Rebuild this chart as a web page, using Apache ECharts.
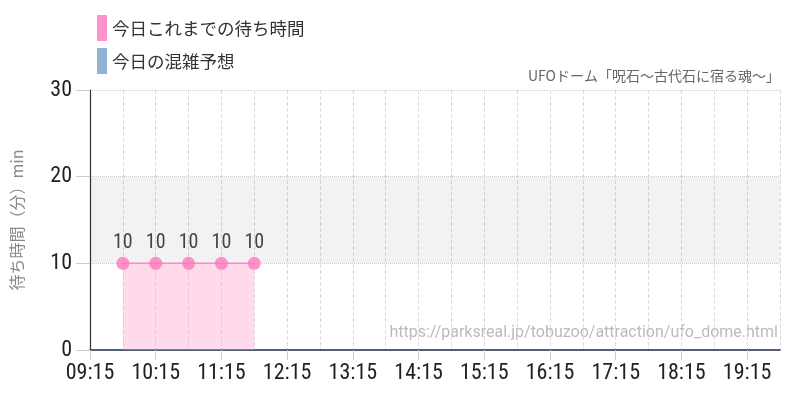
<!DOCTYPE html>
<html><head><meta charset="utf-8">
<script src="https://cdn.jsdelivr.net/npm/echarts@6/dist/echarts.min.js"></script>
<style>html,body{margin:0;padding:0;background:#fff}#c{width:800px;height:400px}</style>
</head><body><div id="c"></div>
<script>
var categories = ['09:15','09:45','10:15','10:45','11:15','11:45','12:15','12:45','13:15','13:45','14:15','14:45','15:15','15:45','16:15','16:45','17:15','17:45','18:15','18:45','19:15','19:45'];
var waitSoFar = [null,10,10,10,10,10,null,null,null,null,null,null,null,null,null,null,null,null,null,null,null,null];
var forecast = [];
var yTicks = {min:0, max:30, interval:10};
var seriesNames = ['今日これまでの待ち時間','今日の混雑予想'];
var titleText = 'UFOドーム「呪石～古代石に宿る魂～」';
var urlText = 'https://parksreal.jp/tobuzoo/attraction/ufo_dome.html';
var yName = '待ち時間（分）min';

var jpFont = "'Noto Sans CJK JP','Noto Sans',sans-serif";
var numFont = "'Roboto Condensed','Roboto',sans-serif";
var chart = echarts.init(document.getElementById('c'));
chart.setOption({
  animation:false,
  color:['#ff88c8','#8fb3d1'],
  title:{text:titleText,right:15,top:64,textStyle:{fontSize:14,fontWeight:'normal',color:'#666',fontFamily:jpFont}},
  legend:{orient:'vertical',left:92,top:10,itemWidth:10,itemHeight:26,itemGap:7,icon:'rect',
    textStyle:{fontSize:17.5,color:'#333',fontFamily:jpFont},data:seriesNames},
  graphic:[{type:'text',right:22,top:325,style:{text:urlText,fontSize:16,fill:'#bbb',fontFamily:"'Roboto','Noto Sans',sans-serif"}}],
  grid:{left:90,right:20,top:90,bottom:50},
  xAxis:{type:'category',data:categories,boundaryGap:false,
    axisLine:{lineStyle:{color:'#1f3048',width:1.5}},
    axisTick:{show:true,interval:1,length:10,lineStyle:{color:'#ccc'}},
    axisLabel:{interval:1,margin:12,fontSize:22,color:'#222',fontFamily:numFont},
    splitLine:{show:true,interval:0,lineStyle:{type:'dashed',color:'#ddd'}}},
  yAxis:{type:'value',min:yTicks.min,max:yTicks.max,interval:yTicks.interval,
    name:yName,nameLocation:'middle',nameGap:65,nameTextStyle:{fontSize:16,color:'#888',fontFamily:jpFont},
    axisLine:{show:true,lineStyle:{color:'#333',width:1.2}},
    axisTick:{show:true,length:14,lineStyle:{color:'#ccc'}},
    axisLabel:{margin:18,fontSize:22,color:'#222',fontFamily:numFont},
    splitLine:{lineStyle:{type:'dotted',color:'#ccc'}}},
  series:[
    {name:seriesNames[0],type:'line',data:waitSoFar,symbol:'circle',symbolSize:13,
      itemStyle:{color:'rgba(255,120,190,0.8)'},lineStyle:{color:'#ff88c8',width:1.5},
      areaStyle:{color:'rgba(255,150,205,0.5)'},
      label:{show:true,position:'top',distance:4,fontSize:20,color:'#444',fontFamily:numFont},
      markArea:{silent:true,itemStyle:{color:'rgba(0,0,0,0.05)'},data:[[{yAxis:10},{yAxis:20}]]}},
    {name:seriesNames[1],type:'line',data:forecast,itemStyle:{color:'#8fb3d1'}}
  ]
});
</script></body></html>
